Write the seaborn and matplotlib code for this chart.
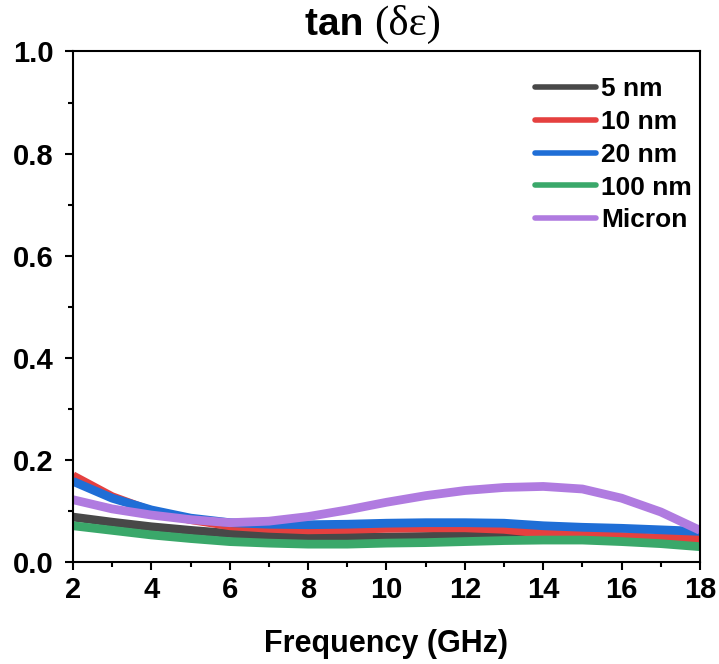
import matplotlib
matplotlib.use("Agg")
import matplotlib.pyplot as plt
import seaborn as sns
import pandas as pd

freq = [2, 3, 4, 5, 6, 7, 8, 9, 10, 11, 12, 13, 14, 15, 16, 17, 18]
nm5 = [0.088, 0.078, 0.069, 0.062, 0.056, 0.052, 0.050, 0.049, 0.049, 0.050, 0.051, 0.052, 0.052, 0.050, 0.047, 0.044, 0.040]
nm10 = [0.169, 0.128, 0.100, 0.083, 0.071, 0.066, 0.063, 0.064, 0.066, 0.067, 0.067, 0.064, 0.056, 0.053, 0.050, 0.047, 0.045]
nm20 = [0.158, 0.125, 0.102, 0.086, 0.077, 0.074, 0.073, 0.074, 0.076, 0.077, 0.077, 0.076, 0.071, 0.068, 0.066, 0.063, 0.060]
nm100 = [0.071, 0.062, 0.053, 0.046, 0.040, 0.037, 0.035, 0.035, 0.037, 0.038, 0.040, 0.042, 0.043, 0.043, 0.040, 0.036, 0.030]
micron = [0.122, 0.104, 0.092, 0.083, 0.077, 0.080, 0.089, 0.102, 0.117, 0.130, 0.140, 0.146, 0.148, 0.143, 0.125, 0.098, 0.062]
series_names = ["5 nm", "10 nm", "20 nm", "100 nm", "Micron"]
colors = ["#484848", "#e5403f", "#1f6ed6", "#3aa86a", "#b07be0"]
xticks = [2, 4, 6, 8, 10, 12, 14, 16, 18]
yticks = [0.0, 0.2, 0.4, 0.6, 0.8, 1.0]

sns.set_style("ticks")
plt.rcParams["font.family"] = ["Liberation Sans", "DejaVu Sans"]
plt.rcParams["font.weight"] = "bold"
for k in ["text.color", "axes.labelcolor", "xtick.color", "ytick.color", "axes.edgecolor"]:
    plt.rcParams[k] = "black"

rows = []
for name, vals in zip(series_names, [nm5, nm10, nm20, nm100, micron]):
    for f, v in zip(freq, vals):
        rows.append({"Frequency": f, "val": v, "Sample": name})
df = pd.DataFrame(rows)

fig = plt.figure(figsize=(7.19, 6.64), dpi=100)
ax = fig.add_axes([0.1015, 0.1536, 0.8721, 0.7689])

sns.lineplot(data=df, x="Frequency", y="val", hue="Sample", hue_order=series_names,
             palette=colors, linewidth=6.3, ax=ax, legend=True,
             solid_capstyle="butt", solid_joinstyle="round")

ax.set_xlim(2, 18)
ax.set_ylim(0, 1.0)
ax.set_xticks(xticks)
ax.set_xticks([3, 5, 7, 9, 11, 13, 15, 17], minor=True)
ax.set_yticks(yticks)
ax.set_yticks([0.1, 0.3, 0.5, 0.7, 0.9], minor=True)
ax.set_yticklabels([f"{t:.1f}" for t in yticks])
ax.set_xticklabels([str(t) for t in xticks])

for s in ax.spines.values():
    s.set_visible(True)
    s.set_linewidth(1.5)
    s.set_color("black")

ax.tick_params(axis="both", which="major", direction="out", length=5.8, width=1.5,
               labelsize=21, color="black", labelcolor="black")
ax.tick_params(axis="both", which="minor", direction="out", length=3.3, width=1.5, color="black")
ax.tick_params(axis="x", which="major", pad=4.5)
ax.tick_params(axis="y", which="major", pad=8)
for lab in ax.get_xticklabels() + ax.get_yticklabels():
    lab.set_fontweight("bold")

ax.set_xlabel("Frequency (GHz)", fontsize=22, fontweight="bold", labelpad=18, color="black")
ax.set_ylabel("")

handles, labels = ax.get_legend_handles_labels()
leg = ax.legend(handles, labels, loc="upper right", bbox_to_anchor=(0.987, 0.949),
                frameon=False, fontsize=19, handlelength=2.3, handletextpad=0.19,
                labelspacing=0.33, borderpad=0, borderaxespad=0)
for t in leg.get_texts():
    t.set_fontweight("bold")
    t.set_color("black")
for l in leg.get_lines():
    l.set_linewidth(4)
    l.set_solid_capstyle("round")

base_y = 1 - 35 / 664
t1 = fig.text(305 / 719, base_y, "tan ", fontsize=28, fontweight="bold", color="black",
              ha="left", va="baseline", family=["Liberation Sans", "DejaVu Sans"])
fig.canvas.draw()
bb = t1.get_window_extent(renderer=fig.canvas.get_renderer())
x2 = bb.x1 / fig.bbox.width
fig.text(x2, base_y, "(δε)", fontsize=31, fontweight="normal", color="black",
         ha="left", va="baseline", family=["Liberation Serif", "DejaVu Serif"])

fig.savefig("out.png", dpi=100)
